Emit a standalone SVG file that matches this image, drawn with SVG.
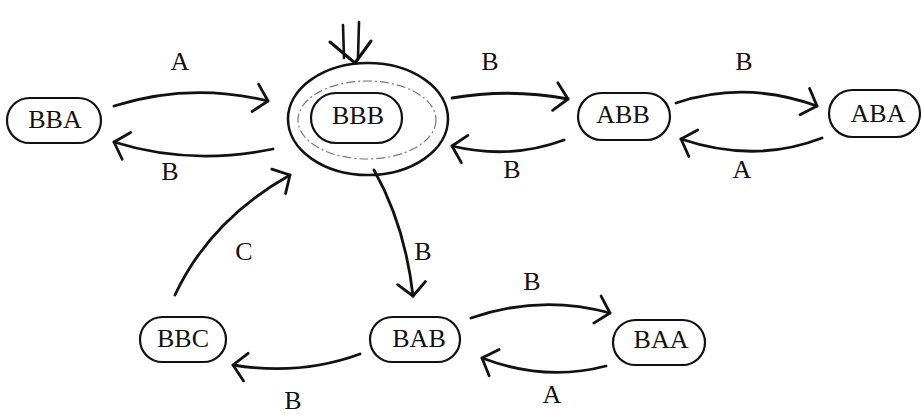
<svg xmlns="http://www.w3.org/2000/svg" width="922" height="415" viewBox="0 0 922 415">
  <style>
    .pill { fill: none; stroke: #111; stroke-width: 2.2; }
    text { font-family: 'Liberation Serif', 'Times New Roman', serif; font-size: 26px; fill: #111; text-anchor: middle; }
    .edge { fill: none; stroke: #111; stroke-width: 2.8; stroke-linecap: round; marker-end: url(#chev); }
  </style>
  <defs>
    <marker id="chev" markerUnits="userSpaceOnUse" markerWidth="30" markerHeight="30" refX="0" refY="0" viewBox="-18 -15 20 30" orient="auto" overflow="visible">
      <path d="M -13 -14 L 0 0 L -13 14" fill="none" stroke="#111" stroke-width="2.8" stroke-linecap="round" stroke-linejoin="round"/>
    </marker>
  </defs>

  <rect width="922" height="415" fill="#fff"/>

  <!-- start arrow into BBB -->
  <g id="start">
    <path d="M 343 25 L 344 58 M 359 22 L 358 58" fill="none" stroke="#111" stroke-width="2.6" stroke-linecap="round"/>
    <path d="M 330 42 L 355 63 L 371 41" fill="none" stroke="#111" stroke-width="3" stroke-linecap="round" stroke-linejoin="round"/>
  </g>

  <g id="BBB">
    <ellipse cx="368" cy="119" rx="80" ry="56" fill="none" stroke="#111" stroke-width="2.6"/>
    <ellipse cx="367" cy="120" rx="69" ry="39" fill="none" stroke="#777" stroke-width="1.2" stroke-dasharray="9 3 2 3"/>
    <rect x="311" y="93" width="91" height="50" rx="25" class="pill"/>
    <text x="358" y="124">BBB</text>
  </g>

  <g id="BBA">
    <rect x="7" y="98" width="94" height="45" rx="22.5" class="pill"/>
    <text x="55" y="128">BBA</text>
  </g>

  <g id="ABB">
    <rect x="578" y="93" width="92" height="47" rx="23.5" class="pill"/>
    <text x="623" y="123">ABB</text>
  </g>

  <g id="ABA">
    <rect x="829" y="90" width="91" height="47" rx="23.5" class="pill"/>
    <text x="878" y="122">ABA</text>
  </g>

  <g id="BBC">
    <rect x="140" y="317" width="86" height="45" rx="22.5" class="pill"/>
    <text x="183" y="347">BBC</text>
  </g>

  <g id="BAB">
    <rect x="370" y="317" width="90" height="45" rx="22.5" class="pill"/>
    <text x="419" y="347">BAB</text>
  </g>

  <g id="BAA">
    <rect x="613" y="320" width="92" height="45" rx="22.5" class="pill"/>
    <text x="661" y="348">BAA</text>
  </g>

  <g id="connectors">
    <path class="edge" d="M 114 106 Q 190 82 268 101"/>
    <path class="edge" d="M 273 149 Q 190 166 114 142"/>
    <path class="edge" d="M 452 98 Q 510 88 568 99"/>
    <path class="edge" d="M 564 140 Q 510 160 452 146"/>
    <path class="edge" d="M 676 103 Q 745 80 817 106"/>
    <path class="edge" d="M 822 138 Q 755 164 681 139"/>
    <path class="edge" d="M 374 170 Q 405 225 413 296"/>
    <path class="edge" d="M 175 295 Q 210 220 290 175"/>
    <path class="edge" d="M 471 318 Q 540 294 610 313"/>
    <path class="edge" d="M 606 366 Q 545 382 482 358"/>
    <path class="edge" d="M 360 354 Q 300 376 233 365"/>
  </g>

  <g id="labels">
    <text x="180" y="70">A</text>
    <text x="170" y="180">B</text>
    <text x="490" y="70">B</text>
    <text x="512" y="178">B</text>
    <text x="744" y="70">B</text>
    <text x="742" y="178">A</text>
    <text x="423" y="260">B</text>
    <text x="244" y="260">C</text>
    <text x="532" y="290">B</text>
    <text x="552" y="403">A</text>
    <text x="293" y="409">B</text>
  </g>
</svg>
